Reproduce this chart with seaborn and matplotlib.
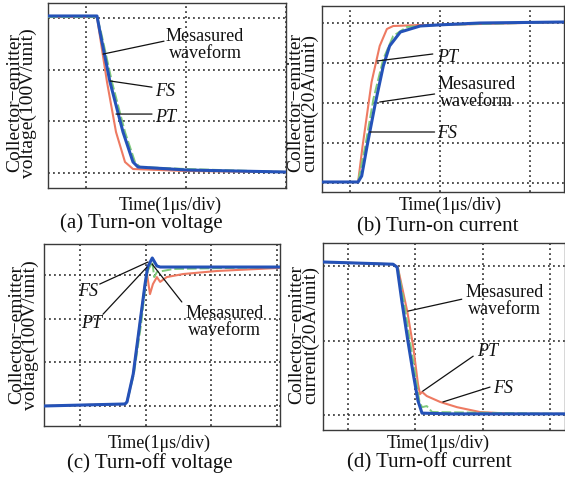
import matplotlib
matplotlib.use("Agg")
import matplotlib.pyplot as plt
import pandas as pd
import seaborn as sns

# ---------------- data (time in us, voltage in V, current in A) ----------------
# (a) Turn-on voltage
a_meas_t = [0.62, 1.11, 1.14, 1.24, 1.37, 1.47, 1.52, 2.01, 3.0]
a_meas_v = [303.7, 303.7, 272.7, 176, 79.3, 21.3, 11.6, 5.8, 1.9]
a_pt_t = [0.62, 1.11, 1.21, 1.30, 1.39, 1.47, 2.0, 3.0]
a_pt_v = [301.7, 301.7, 176, 79.3, 21.3, 7.7, 3.9, 1.9]
a_fs_t = [0.62, 1.11, 1.15, 1.26, 1.39, 1.49, 1.54, 2.01, 3.0]
a_fs_v = [301.7, 301.7, 272.7, 176, 79.3, 21.3, 11.6, 7.7, 1.9]

# (b) Turn-on current
b_meas_t = [0.69, 1.09, 1.13, 1.19, 1.28, 1.37, 1.44, 1.56, 1.78, 1.97, 2.44, 3.38]
b_meas_i = [0.5, 0.5, 3.5, 18.5, 39.5, 58.5, 68.5, 75.5, 78.5, 79, 80, 80.5]
b_pt_t = [0.69, 1.09, 1.14, 1.24, 1.33, 1.41, 1.48, 1.78, 1.97, 3.38]
b_pt_i = [0.5, 0.5, 18.5, 50.5, 68.5, 77, 78.5, 79, 79, 80.5]
b_fs_t = [0.69, 1.09, 1.17, 1.26, 1.37, 1.48, 1.63, 1.97, 3.38]
b_fs_i = [0.5, 0.5, 18.5, 42, 62, 73.5, 78, 79, 80.5]

# (c) Turn-off voltage
c_meas_t = [0.45, 1.685, 1.715, 1.81, 1.91, 1.99, 2.03, 2.10, 2.17, 2.22, 3.13, 4.04]
c_meas_v = [0, 4.6, 9.2, 73.2, 187.6, 279, 318, 338.7, 320.4, 318, 318, 318]
c_pt_t = [0.45, 1.685, 1.715, 1.81, 1.91, 1.99, 2.02, 2.065, 2.11, 2.17, 2.22, 2.32, 2.57, 3.09, 4.04]
c_pt_v = [0, 4.6, 9.2, 73.2, 187.6, 279, 302, 256, 279, 295, 284, 295, 302, 309, 316]
c_fs_t = [0.45, 1.685, 1.715, 1.82, 1.93, 2.0, 2.03, 2.10, 2.13, 2.17, 2.26, 2.42, 4.04]
c_fs_v = [0, 4.6, 9.2, 73.2, 187.6, 279, 309, 329.5, 295, 306.6, 309, 313.5, 318]

# (d) Turn-off current
d_meas_t = [0.63, 1.67, 1.73, 1.80, 1.89, 1.97, 2.04, 2.10, 2.52, 4.22]
d_meas_i = [41.1, 40.5, 39.7, 30.6, 19.9, 11.0, 3.8, 0.5, 0.3, 0.3]
d_pt_t = [0.63, 1.67, 1.74, 1.88, 1.97, 2.04, 2.07, 2.10, 2.17, 2.37, 2.62, 2.96, 3.45, 4.22]
d_pt_i = [41.1, 40.5, 39.7, 27.9, 18.3, 8.3, 5.6, 6.2, 5.1, 3.5, 2.1, 0.8, 0.3, 0.3]
d_fs_t = [0.63, 1.67, 1.74, 1.83, 1.92, 2.0, 2.06, 2.10, 2.17, 2.25, 4.22]
d_fs_i = [41.1, 40.5, 39.7, 30.6, 19.9, 11.0, 3.8, 2.1, 2.4, 0.8, 0.3]

xlabel_text = "Time(1\u03bcs/div)"
ylabel_voltage = "Collector\u2212emitter\nvoltage(100V/unit)"
ylabel_current = "Collector\u2212emitter\ncurrent(20A/unit)"
captions = ["(a) Turn-on voltage", "(b) Turn-on current",
            "(c) Turn-off voltage", "(d) Turn-off current"]
meas_label = "Mesasured\nwaveform"

# ---------------- style ----------------
sns.set_theme(style="white")
plt.rcParams["font.family"] = ["Liberation Serif", "DejaVu Serif"]

BLUE = "#2452b8"
RED = "#ee7a62"
GREEN = "#7fc97a"
GRID = "#333333"

W, H = 565, 481
fig = plt.figure(figsize=(W / 100, H / 100), dpi=100)
fig.patch.set_facecolor("white")


def rect(l, t, r, b):
    return [l / W, 1 - b / H, (r - l) / W, (b - t) / H]


def panel(r, xlim, ylim, xg, yg, meas, pt, fs):
    ax = fig.add_axes(r)
    ax.set_facecolor("white")
    frames = []
    for name, (t, v) in (("PT", pt), ("FS", fs), ("Measured", meas)):
        frames.append(pd.DataFrame({"t": t, "v": v, "series": name}))
    df = pd.concat(frames, ignore_index=True)
    sns.lineplot(data=df[df.series == "PT"], x="t", y="v", ax=ax, sort=False,
                 estimator=None, color=RED, lw=1.5, zorder=3)
    sns.lineplot(data=df[df.series == "FS"], x="t", y="v", ax=ax, sort=False,
                 estimator=None, color=GREEN, lw=1.4, ls=(0, (5, 1.5)), zorder=4)
    sns.lineplot(data=df[df.series == "Measured"], x="t", y="v", ax=ax, sort=False,
                 estimator=None, color=BLUE, lw=2.2, zorder=5)
    ax.set_xlim(*xlim)
    ax.set_ylim(*ylim)
    ax.set_xticks(xg)
    ax.set_yticks(yg)
    ax.tick_params(length=0, labelbottom=False, labelleft=False)
    ax.grid(True, color=GRID, lw=1.2, ls=(0, (1.1, 1.9)))
    ax.set_axisbelow(True)
    ax.set_xlabel("")
    ax.set_ylabel("")
    for s in ax.spines.values():
        s.set_visible(True)
        s.set_color("#3a3a3a")
        s.set_linewidth(1.0)
    return ax


def leader(ax, p0, p1):
    ax.annotate("", xy=p0, xytext=p1,
                arrowprops=dict(arrowstyle="-", color="#111111", lw=0.9,
                                shrinkA=0, shrinkB=0), zorder=6)


ITAL = dict(fontsize=13, style="italic", color="#111111", zorder=7)
NORM = dict(fontsize=13, color="#111111", linespacing=1.0, multialignment="center", zorder=7)

# (a)
axa = panel(rect(48, 4, 286, 189), (0.62, 3.0), (-29, 328.8), [1, 2, 3], [0, 100, 200, 300],
            (a_meas_t, a_meas_v), (a_pt_t, a_pt_v), (a_fs_t, a_fs_v))
axa.text(1.80, 249, meas_label, ha="left", va="center", **NORM)
leader(axa, (1.17, 230), (1.78, 255))
axa.text(1.69, 160, "FS", ha="left", va="center", **ITAL)
leader(axa, (1.24, 178), (1.66, 166))
axa.text(1.69, 110, "PT", ha="left", va="center", **ITAL)
leader(axa, (1.30, 114), (1.66, 114))

# (b)
axb = panel(rect(322, 7, 564, 193), (0.689, 3.378), (-4.5, 88.5), [1, 2, 3], [0, 20, 40, 60, 80],
            (b_meas_t, b_meas_i), (b_pt_t, b_pt_i), (b_fs_t, b_fs_i))
axb.text(1.97, 63, "PT", ha="left", va="center", **ITAL)
leader(axb, (1.30, 61), (1.92, 64.5))
axb.text(1.97, 45.5, meas_label, ha="left", va="center", **NORM)
leader(axb, (1.33, 40.5), (1.94, 44.5))
axb.text(1.97, 25, "FS", ha="left", va="center", **ITAL)
leader(axb, (1.22, 25.5), (1.94, 25.5))

# (c)
axc = panel(rect(44, 245, 280, 427), (0.452, 4.044), (-45.8, 370.7), [1, 2, 3, 4], [0, 100, 200, 300],
            (c_meas_t, c_meas_v), (c_pt_t, c_pt_v), (c_fs_t, c_fs_v))
axc.text(1.27, 264, "FS", ha="right", va="center", **ITAL)
leader(axc, (2.035, 329.5), (1.30, 279))
axc.text(1.335, 191, "PT", ha="right", va="center", **ITAL)
leader(axc, (2.02, 318), (1.35, 210))
axc.text(2.60, 194.5, meas_label, ha="left", va="center", **NORM)
leader(axc, (2.096, 325), (2.55, 238))

# (d)
axd = panel(rect(323, 244, 565, 431), (0.629, 4.224), (-4.03, 46.2), [1, 2, 3, 4], [0, 20, 40],
            (d_meas_t, d_meas_i), (d_pt_t, d_pt_i), (d_fs_t, d_fs_i))
axd.text(2.74, 30.9, meas_label, ha="left", va="center", **NORM)
leader(axd, (1.89, 27.9), (2.69, 31.1))
axd.text(2.92, 17.3, "PT", ha="left", va="center", **ITAL)
leader(axd, (2.11, 6.4), (2.86, 15.8))
axd.text(3.15, 7.4, "FS", ha="left", va="center", **ITAL)
leader(axd, (2.41, 3.5), (3.11, 7.5))


def ftext(px, py, s, **kw):
    fig.text(px / W, 1 - py / H, s, **kw)


# x labels
for px, py in ((170, 205.5), (450, 205.5), (159, 443.5), (438, 443.5)):
    ftext(px, py, xlabel_text, ha="center", va="center", fontsize=13, color="#111111")
# captions
for (px, py), cap in zip(((141, 223), (438, 227), (150, 463), (429, 463)), captions):
    ftext(px, py, cap, ha="center", va="center", fontsize=15, color="#111111")
# y labels
for (px, py), lab in zip(((22, 103), (303, 103), (24, 335), (304, 335)),
                         (ylabel_voltage, ylabel_current, ylabel_voltage, ylabel_current)):
    ftext(px, py, lab, ha="center", va="center", rotation=90, fontsize=14,
          linespacing=0.75, multialignment="center", color="#111111")

fig.savefig("out.png", dpi=100, facecolor="white")
